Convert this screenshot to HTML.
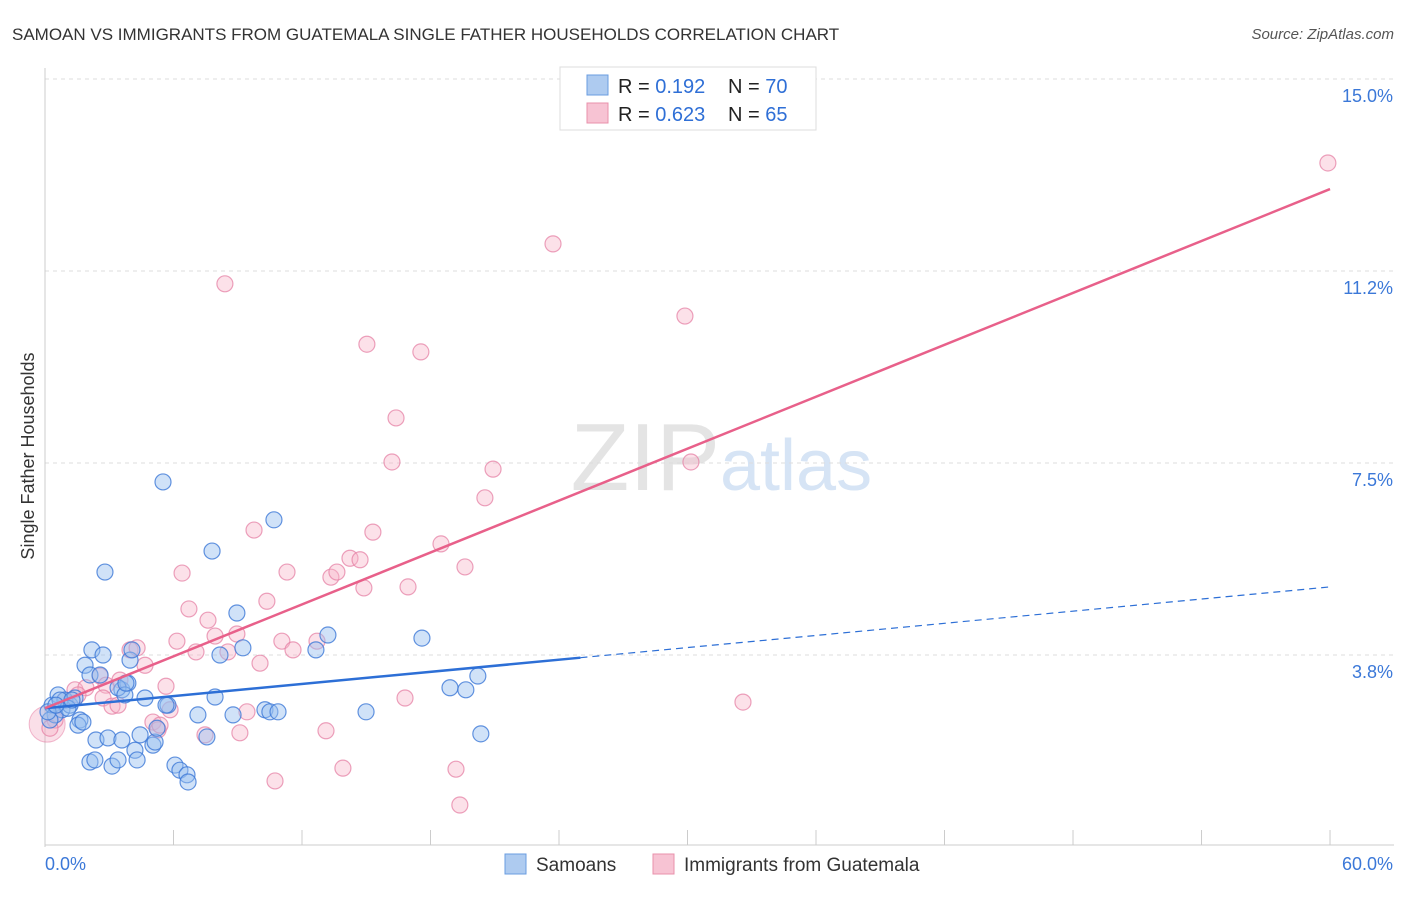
<!DOCTYPE html>
<html><head><meta charset="utf-8"><style>
body{margin:0;background:#fff;font-family:"Liberation Sans",sans-serif;}
svg text{font-family:"Liberation Sans",sans-serif;}
</style></head><body>
<svg width="1406" height="892" xmlns="http://www.w3.org/2000/svg">
<text x="12" y="40" font-size="17" fill="#333">SAMOAN VS IMMIGRANTS FROM GUATEMALA SINGLE FATHER HOUSEHOLDS CORRELATION CHART</text>
<text x="1394" y="39" font-size="15" fill="#555" font-style="italic" text-anchor="end">Source: ZipAtlas.com</text>
<text x="720" y="490" font-size="96" fill="#e4e4e4" text-anchor="end" font-family="Liberation Serif">ZIP</text>
<text x="720" y="490" font-size="72" fill="#d6e4f5">atlas</text>
<g id="grid"></g>
<g id="axes"></g>
<g id="pts"></g>
<g id="lines"></g>
<text x="34" y="456" font-size="18" fill="#333" text-anchor="middle" transform="rotate(-90 34 456)">Single Father Households</text>
<g>
<rect x="560" y="67" width="256" height="63" fill="#fff" stroke="#ddd"/>
<rect x="587" y="75" width="21" height="20" fill="#aecbf0" stroke="#6a9de0"/>
<rect x="587" y="103" width="21" height="20" fill="#f7c3d3" stroke="#e890ab"/>
<text x="618" y="93" font-size="20" fill="#222">R = <tspan fill="#2f6fd6">0.192</tspan></text>
<text x="728" y="93" font-size="20" fill="#222">N = <tspan fill="#2f6fd6">70</tspan></text>
<text x="618" y="121" font-size="20" fill="#222">R = <tspan fill="#2f6fd6">0.623</tspan></text>
<text x="728" y="121" font-size="20" fill="#222">N = <tspan fill="#2f6fd6">65</tspan></text>
</g>
<g>
<rect x="505" y="854" width="21" height="20" fill="#aecbf0" stroke="#6a9de0"/>
<text x="536" y="871" font-size="19" fill="#333">Samoans</text>
<rect x="653" y="854" width="21" height="20" fill="#f7c3d3" stroke="#e890ab"/>
<text x="684" y="871" font-size="19" fill="#333">Immigrants from Guatemala</text>
</g>
</svg>
<script>
const xTickLabels=["0.0%","60.0%"];
const yTicks=[3.75,7.5,11.25,15];
const yTickLabels=["3.8%","7.5%","11.2%","15.0%"];
const samoanX=[0.33,0.61,0.79,0.47,0.23,0.93,1.17,1.40,1.63,1.54,1.87,2.10,2.19,2.71,2.38,2.94,2.10,2.33,3.13,3.41,3.59,3.59,3.87,3.97,4.20,4.30,4.44,4.67,5.04,5.14,5.23,5.51,2.80,5.74,6.07,6.30,6.63,6.68,7.14,7.56,7.80,7.94,8.17,8.78,8.96,9.24,10.27,10.50,10.88,10.69,12.65,13.21,14.99,17.60,18.91,19.65,20.21,20.35,0.70,1.07,1.26,0.14,2.57,3.41,3.73,4.06,5.65,3.78,1.77,0.51];
const samoanY=[2.77,2.97,2.68,2.58,2.48,2.87,2.77,2.91,2.48,2.38,3.55,3.36,3.85,3.75,2.09,2.13,1.66,1.70,1.58,1.70,2.09,3.07,3.20,3.65,1.89,1.70,2.19,2.91,1.99,2.05,2.32,7.13,5.37,2.77,1.60,1.50,1.41,1.27,2.58,2.15,5.78,2.93,3.75,2.58,4.57,3.89,2.68,2.64,2.64,6.39,3.85,4.14,2.64,4.08,3.11,3.07,3.34,2.21,2.87,2.71,2.87,2.64,3.36,3.11,2.97,3.85,2.77,3.20,2.44,2.77];
const guatX=[59.9,23.72,8.40,29.88,15.03,17.55,16.39,16.20,20.92,30.16,20.54,9.76,15.31,18.49,14.24,14.71,19.61,6.40,11.30,13.35,13.63,14.89,16.95,6.72,10.36,7.61,8.96,6.16,7.94,11.06,12.70,7.05,11.58,3.97,4.30,4.67,10.04,8.54,5.65,2.57,2.85,3.50,1.40,1.91,2.71,3.13,3.41,5.84,5.04,5.28,9.43,9.10,7.47,13.12,16.81,32.59,10.74,13.91,19.19,19.37,0.47,0.23,0.93,1.54,5.37];
const guatY=[13.36,11.78,11.0,10.37,9.82,9.67,8.38,7.52,7.38,7.52,6.82,6.19,6.15,5.92,5.64,5.61,5.47,5.35,5.37,5.27,5.37,5.06,5.08,4.65,4.80,4.43,4.16,4.02,4.12,4.02,4.02,3.81,3.85,3.85,3.89,3.55,3.59,3.81,3.14,3.34,3.16,3.26,3.07,3.11,2.91,2.75,2.77,2.68,2.44,2.29,2.64,2.23,2.19,2.27,2.91,2.83,1.29,1.54,1.52,0.82,2.48,2.32,2.87,2.97,2.38];
const samoanTrend=[2.71,0.0395]; // intercept, slope
const guatTrend=[2.71,0.169];
const NS="http://www.w3.org/2000/svg";
const X=v=>45+v*21.417, Y=v=>847-v*51.2;
function mk(p,tag,a){const e=document.createElementNS(NS,tag);for(const k in a)e.setAttribute(k,a[k]);p.appendChild(e);return e;}
const grid=document.getElementById('grid'),axes=document.getElementById('axes'),pts=document.getElementById('pts'),lines=document.getElementById('lines');
yTicks.forEach((t,i)=>{
 const g=mk(grid,'line',{x1:45,x2:1394,y1:Y(t),y2:Y(t),stroke:'#ddd','stroke-dasharray':'4,4'});
 
 
 const l=mk(axes,'text',{x:1393,y:Y(t)+23,'font-size':18,fill:'#3b78d8','text-anchor':'end'});
 l.textContent=yTickLabels[i];
 
 
});
const ax=mk(axes,'line',{x1:45,x2:45,y1:68,y2:847,stroke:'#ccc'});


const bx=mk(axes,'line',{x1:45,x2:1394,y1:845,y2:845,stroke:'#ccc'});


for(let i=0;i<=10;i++){const t=mk(axes,'line',{x1:X(i*6),x2:X(i*6),y1:830,y2:845,stroke:'#ccc'});
 
 }
const xl0=mk(axes,'text',{x:45,y:870,'font-size':18,fill:'#3b78d8'});xl0.textContent=xTickLabels[0];


const xl1=mk(axes,'text',{x:1393,y:870,'font-size':18,fill:'#3b78d8','text-anchor':'end'});xl1.textContent=xTickLabels[1];


const big=mk(pts,'circle',{cx:X(0.1),cy:Y(2.4),r:18,fill:'rgba(240,150,180,0.3)',stroke:'rgba(230,120,160,0.5)'});


guatX.forEach((v,i)=>{const c=mk(pts,'circle',{cx:X(v),cy:Y(guatY[i]),r:8,fill:'rgba(247,180,200,0.4)',stroke:'rgba(230,130,165,0.75)','stroke-width':1.2});
 
 });
samoanX.forEach((v,i)=>{const c=mk(pts,'circle',{cx:X(v),cy:Y(samoanY[i]),r:8,fill:'rgba(150,190,240,0.45)',stroke:'rgba(60,120,215,0.8)','stroke-width':1.2});
 
 });
const sl=v=>samoanTrend[0]+samoanTrend[1]*v, gl=v=>guatTrend[0]+guatTrend[1]*v;
const t1=mk(lines,'line',{x1:X(0),y1:Y(sl(0)),x2:X(25),y2:Y(sl(25)),stroke:'#2d6fd6','stroke-width':2.5});


const t2=mk(lines,'line',{x1:X(25),y1:Y(sl(25)),x2:X(60),y2:Y(sl(60)),stroke:'#2d6fd6','stroke-width':1.2,'stroke-dasharray':'7,5'});


const t3=mk(lines,'line',{x1:X(0),y1:Y(gl(0)),x2:X(60),y2:Y(gl(60)),stroke:'#e8608a','stroke-width':2.5});


</script>
</body></html>
